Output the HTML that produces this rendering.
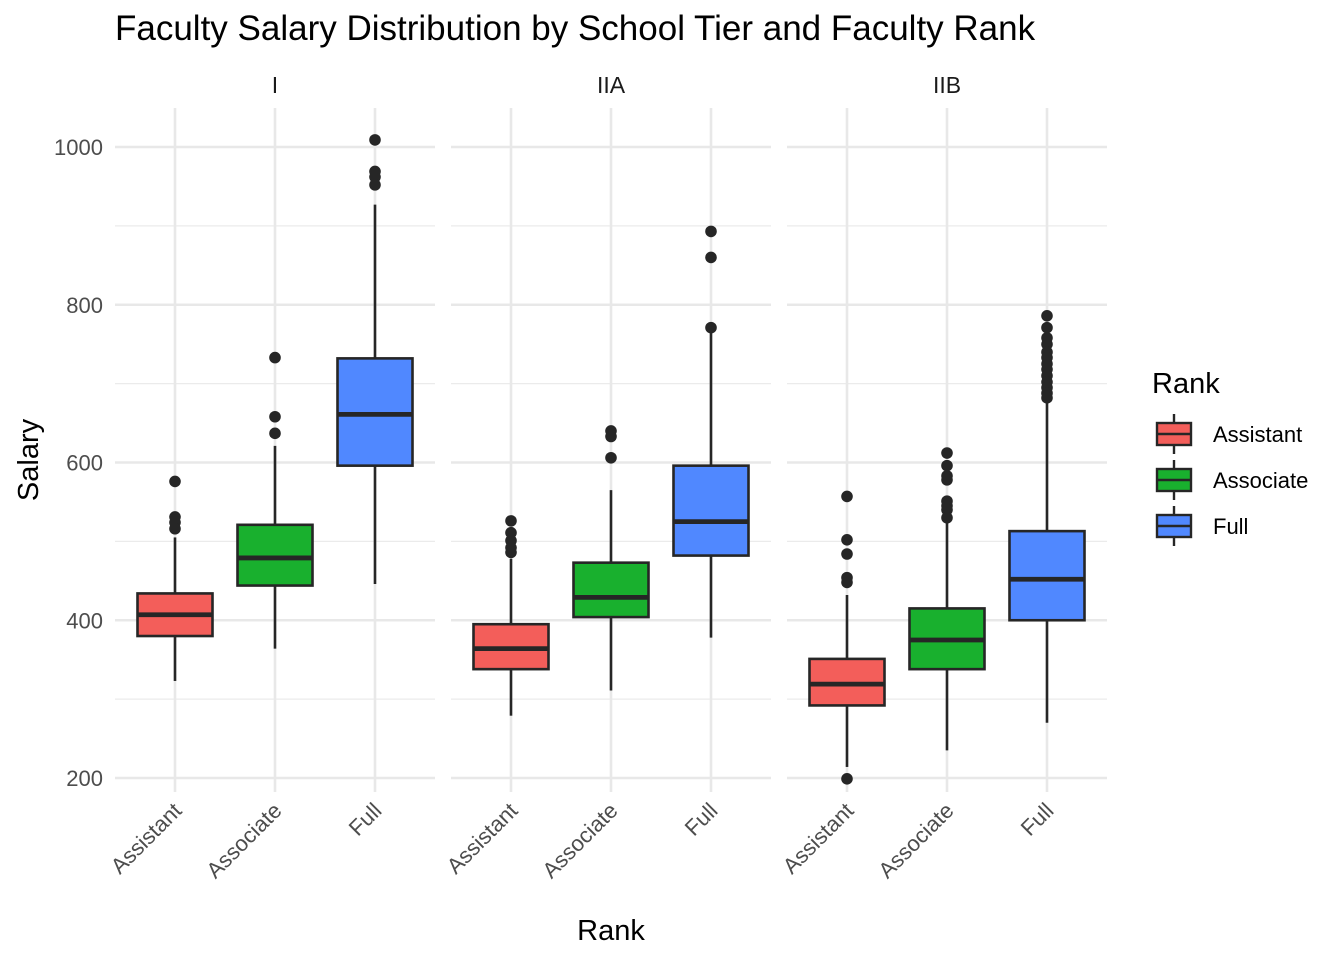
<!DOCTYPE html>
<html><head><meta charset="utf-8"><style>
body{margin:0;background:#fff}
svg{display:block;font-family:"Liberation Sans",Arial,sans-serif}
</style></head><body>
<svg id="chart" width="1344" height="960" viewBox="0 0 1344 960">
<text x="115" y="40" font-size="35" fill="#000">Faculty Salary Distribution by School Tier and Faculty Rank</text>
<text x="611" y="940" font-size="29" text-anchor="middle">Rank</text>
<text transform="translate(38,460) rotate(-90)" font-size="29" text-anchor="middle">Salary</text>
<g id="plot"></g>
<g id="legend"></g>
</svg>
<script>
const tiers = ["I","IIA","IIB"];
const ranks = ["Assistant","Associate","Full"];
const colors = ["#F35E5A","#19B02E","#5088FF"];
const yTicks = [200,400,600,800,1000];
const yMinor = [300,500,700,900];
// [low whisker, Q1, median, Q3, high whisker]
const statsI   = [[323,380,407,434,505],[364,444,479,521,621],[446,596,661,732,927]];
const statsIIA = [[279,338,364,395,478],[311,404,429,473,565],[378,482,525,596,765]];
const statsIIB = [[214,292,319,351,432],[235,338,375,415,526],[270,400,452,513,678]];
const outI   = [[576,531,524,516],[733,658,637],[1009,969,962,952]];
const outIIA = [[526,511,501,492,486],[640,633,606],[893,860,771]];
const outIIB = [[557,502,484,454,448,199],[612,596,583,578,551,545,540,530],[786,771,758,750,740,733,725,718,710,702,695,688,682]];
const allStats=[statsI,statsIIA,statsIIB], allOut=[outI,outIIA,outIIB];
const NS="http://www.w3.org/2000/svg";
const panelX=[115,451,787], panelW=320, panelTop=108, panelBottom=792;
const y=v=>778-(v-200)*0.78875;
const xc=(p,i)=>panelX[p]+60+i*100;
function mk(tag,attrs,parent){const e=document.createElementNS(NS,tag);for(const k in attrs)e.setAttribute(k,attrs[k]);parent.appendChild(e);return e;}
const plot=document.getElementById('plot');
tiers.forEach((t,p)=>{
  const g=mk('g',{},plot);
  
  
  yMinor.forEach(v=>{const l=mk('line',{x1:panelX[p],x2:panelX[p]+panelW,y1:y(v),y2:y(v),stroke:'#ebebeb','stroke-width':1.2},g);
    });
  yTicks.forEach(v=>{const l=mk('line',{x1:panelX[p],x2:panelX[p]+panelW,y1:y(v),y2:y(v),stroke:'#e8e8e8','stroke-width':2.6},g);
    });
  ranks.forEach((r,i)=>{const l=mk('line',{x1:xc(p,i),x2:xc(p,i),y1:panelTop,y2:panelBottom,stroke:'#e8e8e8','stroke-width':2.6},g);
    });
  const st=mk('text',{x:panelX[p]+160,y:93,'font-size':23,'text-anchor':'middle',fill:'#1a1a1a'},g);
  st.textContent=t;
  
  
  ranks.forEach((r,i)=>{
    const s=allStats[p][i], x=xc(p,i), bg=mk('g',{},g);
    
    
    mk('line',{x1:x,x2:x,y1:y(s[0]),y2:y(s[1]),stroke:'#262626','stroke-width':2.6},bg);
    mk('line',{x1:x,x2:x,y1:y(s[3]),y2:y(s[4]),stroke:'#262626','stroke-width':2.6},bg);
    mk('rect',{x:x-37.5,y:y(s[3]),width:75,height:y(s[1])-y(s[3]),fill:colors[i],stroke:'#262626','stroke-width':2.6},bg);
    mk('line',{x1:x-37.5,x2:x+37.5,y1:y(s[2]),y2:y(s[2]),stroke:'#262626','stroke-width':4.8},bg);
    allOut[p][i].forEach(v=>{const c=mk('circle',{cx:x,cy:y(v),r:5.8,fill:'#262626'},bg);
      });
    const lb=mk('text',{transform:`translate(${x+8},${812}) rotate(-45)`,'font-size':22,'text-anchor':'end',fill:'#4d4d4d'},g);
    lb.textContent=r;
    
    
  });
});
yTicks.forEach(v=>{const t=mk('text',{x:103,y:y(v)+8,'font-size':22,'text-anchor':'end',fill:'#4d4d4d'},plot);
  t.textContent=v;
  
  });
const lg=document.getElementById('legend');
const lt=mk('text',{x:1152,y:393,'font-size':29},lg);
lt.textContent='Rank';


ranks.forEach((r,i)=>{
  const cy=434+i*46, e=mk('g',{},lg);
  
  
  mk('line',{x1:1174,x2:1174,y1:cy-20,y2:cy+20,stroke:'#262626','stroke-width':2.4},e);
  mk('rect',{x:1157,y:cy-11,width:34,height:22,fill:colors[i],stroke:'#262626','stroke-width':2.4},e);
  mk('line',{x1:1157,x2:1191,y1:cy,y2:cy,stroke:'#262626','stroke-width':2.4},e);
  const tx=mk('text',{x:1213,y:cy+8,'font-size':22},e);
  tx.textContent=r;
});
</script>
</body></html>
